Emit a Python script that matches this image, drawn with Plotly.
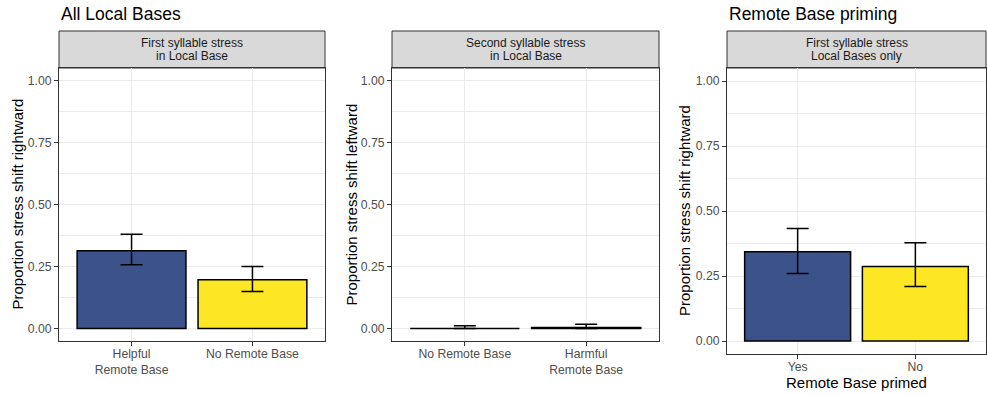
import plotly.graph_objects as go

W, H = 987, 395

# ---- data ----
cats1 = ["Helpful<br>Remote Base", "No Remote Base"]
vals1 = [0.314, 0.197]
lo1 = [0.257, 0.149]
hi1 = [0.380, 0.250]

cats2 = ["No Remote Base", "Harmful<br>Remote Base"]
vals2 = [0.0, 0.004]
lo2 = [0.0, 0.0]
hi2 = [0.011, 0.017]

cats3 = ["Yes", "No"]
vals3 = [0.343, 0.287]
lo3 = [0.260, 0.210]
hi3 = [0.433, 0.378]

ytickvals = [0, 0.25, 0.5, 0.75, 1.0]
yticktext = ["0.00", "0.25", "0.50", "0.75", "1.00"]

NAVY = "#3B528B"
YELLOW = "#FDE725"
colors1 = [NAVY, YELLOW]
colors2 = [YELLOW, NAVY]
colors3 = [NAVY, YELLOW]

FONT = "Liberation Sans, Arial, sans-serif"
TICK_SIZE = 12.2

# panel pixel boxes: (left, right, top, bottom)
panels = [
    (59, 325, 68, 341),
    (392, 659, 68, 341),
    (727, 986, 68, 354),
]
STRIP_TOP = 31

def fx(px):
    return px / W

def fy(py):
    return (H - py) / H

fig = go.Figure()

data = [
    (cats1, vals1, lo1, hi1, colors1),
    (cats2, vals2, lo2, hi2, colors2),
    (cats3, vals3, lo3, hi3, colors3),
]

layout = dict(
    width=W, height=H,
    margin=dict(l=0, r=0, t=0, b=0),
    paper_bgcolor="white", plot_bgcolor="white",
    showlegend=False,
    font=dict(family=FONT),
    template="none",
)

for i, (cats, vals, lo, hi, cols) in enumerate(data):
    n = i + 1
    xs = list(range(1, len(cats) + 1))
    fig.add_trace(go.Bar(
        x=xs, y=vals, width=0.9,
        marker=dict(color=cols, line=dict(color="black", width=1.5)),
        error_y=dict(type="data", symmetric=False,
                     array=[h - v for h, v in zip(hi, vals)],
                     arrayminus=[v - l for v, l in zip(vals, lo)],
                     color="black", thickness=1.5, width=11),
        xaxis=f"x{n}" if n > 1 else "x", yaxis=f"y{n}" if n > 1 else "y",
        hoverinfo="skip",
    ))
    l, r, t, b = panels[i]
    xa = dict(
        domain=[fx(l), fx(r)], range=[0.4, 2.6],
        tickvals=xs, ticktext=cats,
        showgrid=True, gridcolor="#EBEBEB", gridwidth=1,
        zeroline=False,
        showline=True, mirror=True, linecolor="#333333", linewidth=1,
        ticks="outside", ticklen=4, tickcolor="#333333", tickwidth=1,
        ticklabelstandoff=-3,
        tickfont=dict(size=TICK_SIZE, color="#4D4D4D", family=FONT),
        anchor=f"y{n}" if n > 1 else "y",
        fixedrange=True,
    )
    ya = dict(
        domain=[fy(b), fy(t)], range=[-0.05, 1.05],
        tickvals=ytickvals, ticktext=yticktext,
        showgrid=True, gridcolor="#EBEBEB", gridwidth=1.1,
        minor=dict(tickvals=[0.125, 0.375, 0.625, 0.875], showgrid=True,
                   gridcolor="#EBEBEB", gridwidth=0.6, ticks=""),
        zeroline=False,
        showline=True, mirror=True, linecolor="#333333", linewidth=1,
        ticks="outside", ticklen=4, tickcolor="#333333", tickwidth=1,
        tickfont=dict(size=TICK_SIZE, color="#4D4D4D", family=FONT),
        anchor=f"x{n}" if n > 1 else "x",
        fixedrange=True,
    )
    layout["xaxis" if n == 1 else f"xaxis{n}"] = xa
    layout["yaxis" if n == 1 else f"yaxis{n}"] = ya

fig.update_layout(**layout)

# strips
strip_lines = [
    ("First syllable stress", "in Local Base"),
    ("Second syllable stress", "in Local Base"),
    ("First syllable stress", "Local Bases only"),
]
for (l, r, t, b), (s1, s2) in zip(panels, strip_lines):
    fig.add_shape(type="rect", xref="paper", yref="paper",
                  x0=fx(l), x1=fx(r), y0=fy(t), y1=fy(STRIP_TOP),
                  fillcolor="#D9D9D9", line=dict(color="#333333", width=1),
                  layer="below")
    cx = fx((l + r) / 2)
    for txt, py in ((s1, 43), (s2, 56)):
        fig.add_annotation(xref="paper", yref="paper", x=cx, y=fy(py),
                           text=txt, showarrow=False, xanchor="center",
                           yanchor="middle",
                           font=dict(size=12, color="#1A1A1A", family=FONT))

# y-axis titles
ytitles = [
    ("Proportion stress shift rightward", 17),
    ("Proportion stress shift leftward", 351),
    ("Proportion stress shift rightward", 685),
]
for (txt, px), (l, r, t, b) in zip(ytitles, panels):
    fig.add_annotation(xref="paper", yref="paper", x=fx(px), y=fy((t + b) / 2),
                       text=txt, textangle=-90, showarrow=False,
                       xanchor="center", yanchor="middle",
                       font=dict(size=15, color="black", family=FONT))

# x-axis title for panel 3
l, r, t, b = panels[2]
fig.add_annotation(xref="paper", yref="paper", x=fx((l + r) / 2), y=fy(382),
                   text="Remote Base primed", showarrow=False,
                   xanchor="center", yanchor="middle",
                   font=dict(size=15, color="black", family=FONT))

# titles
fig.add_annotation(xref="paper", yref="paper", x=fx(59), y=fy(14),
                   text="All Local Bases", showarrow=False,
                   xanchor="left", yanchor="middle",
                   font=dict(size=17.5, color="black", family=FONT))
fig.add_annotation(xref="paper", yref="paper", x=fx(727), y=fy(14),
                   text="Remote Base priming", showarrow=False,
                   xanchor="left", yanchor="middle",
                   font=dict(size=17.5, color="black", family=FONT))

fig.write_html("out.html")
